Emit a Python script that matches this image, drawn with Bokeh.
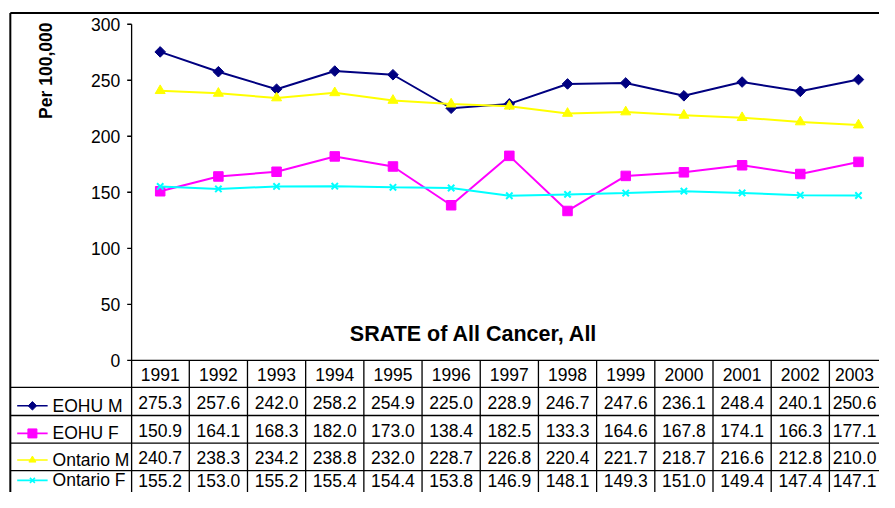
import math
from bokeh.plotting import figure
from bokeh.models import Range1d
from bokeh.core.properties import value
from bokeh.embed import file_html
from bokeh.resources import INLINE

# ---------------- data ----------------
years = [1991, 1992, 1993, 1994, 1995, 1996, 1997, 1998, 1999, 2000, 2001, 2002, 2003]
eohu_m = [275.3, 257.6, 242.0, 258.2, 254.9, 225.0, 228.9, 246.7, 247.6, 236.1, 248.4, 240.1, 250.6]
eohu_f = [150.9, 164.1, 168.3, 182.0, 173.0, 138.4, 182.5, 133.3, 164.6, 167.8, 174.1, 166.3, 177.1]
ontario_m = [240.7, 238.3, 234.2, 238.8, 232.0, 228.7, 226.8, 220.4, 221.7, 218.7, 216.6, 212.8, 210.0]
ontario_f = [155.2, 153.0, 155.2, 155.4, 154.4, 153.8, 146.9, 148.1, 149.3, 151.0, 149.4, 147.4, 147.1]
series_names = ["EOHU M", "EOHU F", "Ontario M", "Ontario F"]
y_ticks = [0, 50, 100, 150, 200, 250, 300]
chart_title = "SRATE of All Cancer, All"
y_label = "Per 100,000"

# ---------------- layout (reference-image pixels, 895 x 508) ----------------
W, H = 879, 492          # figure size that fits the window
REF_W, REF_H = 895, 508
COL_W = 59.25            # table column width
X_FIRST = 162.6          # x of the first year's centre
Y_ZERO = 371.5           # y of value 0
PX_PER_UNIT = 347.0 / 300.0
EDGE_NUDGE = 4.0         # keep the last column's texts inside the picture


def dx(px):
    return years[0] + (px - X_FIRST) / COL_W


def dy(py):
    return (Y_ZERO - py) / PX_PER_UNIT


FONT = value("Liberation Sans")
FS = "17.5px"

p = figure(width=W, height=H, output_backend="svg", toolbar_location=None,
           x_range=Range1d(dx(0), dx(REF_W)),
           y_range=Range1d(dy(REF_H), dy(0)),
           x_axis_type=None, y_axis_type=None, min_border=0,
           outline_line_color=None, background_fill_color="white",
           border_fill_color="white")
p.grid.visible = False

RIGHT = dx(REF_W + 20)
BOTTOM = dy(REF_H + 20)
AXIS_X = dx(133.5)

# outer chart border
p.segment(x0=[dx(10), dx(10)], y0=[dy(13), dy(13)], x1=[RIGHT, dx(10)], y1=[dy(13), BOTTOM],
          line_color="black", line_width=2)

# y axis line (continues as the table's left data border)
p.segment(x0=[AXIS_X], y0=[y_ticks[-1]], x1=[AXIS_X], y1=[BOTTOM], line_color="black", line_width=1.3)
# ticks and tick labels
p.segment(x0=[dx(129)] * len(y_ticks), y0=y_ticks, x1=[AXIS_X] * len(y_ticks), y1=y_ticks,
          line_color="black", line_width=1.3)
p.text(x=[dx(122)] * len(y_ticks), y=y_ticks, text=[str(t) for t in y_ticks],
       text_align="right", text_baseline="middle", text_font=FONT, text_font_size=FS,
       text_color="black")

# data table grid
p.segment(x0=[AXIS_X], y0=[0], x1=[RIGHT], y1=[0], line_color="black", line_width=1.3)
row_lines = [dy(399.5), dy(428.5), dy(457), dy(485.5)]
p.segment(x0=[dx(10)] * 4, y0=row_lines, x1=[RIGHT] * 4, y1=row_lines,
          line_color="black", line_width=1.3)
col_lines = [y + 0.5 for y in years]
p.segment(x0=col_lines, y0=[0] * len(col_lines), x1=col_lines, y1=[BOTTOM] * len(col_lines),
          line_color="black", line_width=1.3)

text_x = [y - (EDGE_NUDGE / COL_W if y == years[-1] else 0.0) for y in years]

# header years
p.text(x=text_x, y=[dy(386.5)] * len(years), text=[str(y) for y in years],
       text_align="center", text_baseline="middle", text_font=FONT, text_font_size=FS,
       text_color="black")

series = [eohu_m, eohu_f, ontario_m, ontario_f]
colors = ["#000080", "#FF00FF", "#FFFF00", "#00FFFF"]
value_rows_py = [415.5, 443.5, 472, 495.5]
legend_rows_py = [418.5, 447, 474.5, 495.5]

for vals, rpy in zip(series, value_rows_py):
    p.text(x=text_x, y=[dy(rpy)] * len(years),
           text=["%.1f" % v for v in vals],
           text_align="center", text_baseline="middle", text_font=FONT,
           text_font_size=FS, text_color="black")

# series lines and markers
marker_specs = [
    dict(marker="square", angle=math.pi / 4, size=7.5),
    dict(marker="square", angle=0, size=9.5),
    dict(marker="triangle", angle=0, size=10),
    dict(marker="x", angle=0, size=9),
]
key_sizes = [6, 9, 7, 7]

for vals, col, spec in zip(series, colors, marker_specs):
    p.line(years, vals, line_color=col, line_width=2)
    p.scatter(years, vals, marker=spec["marker"], angle=spec["angle"], size=spec["size"],
              fill_color=col, line_color=col, line_width=2 if spec["marker"] == "x" else 1)

# legend keys inside the table
for name, col, spec, ks, lpy in zip(series_names, colors, marker_specs, key_sizes, legend_rows_py):
    yk = dy(lpy)
    p.segment(x0=[dx(17)], y0=[yk], x1=[dx(48)], y1=[yk], line_color=col, line_width=1.6)
    p.scatter([dx(32.5)], [yk], marker=spec["marker"], angle=spec["angle"], size=ks,
              fill_color=col, line_color=col, line_width=1.6 if spec["marker"] == "x" else 1)
    p.text(x=[dx(53)], y=[yk], text=[name], text_align="left", text_baseline="middle",
           text_font=FONT, text_font_size=FS, text_color="black")

# title (sits inside the plot area, near the bottom)
p.text(x=[dx(482)], y=[dy(344)], text=[chart_title], text_align="center",
       text_baseline="middle", text_font=FONT, text_font_size="21.5px",
       text_font_style="bold", text_color="black")

# y axis label
p.text(x=[dx(46)], y=[dy(72.5)], text=[y_label], angle=math.pi / 2, text_align="center",
       text_baseline="middle", text_font=FONT, text_font_size=FS,
       text_font_style="bold", text_color="black")

open("out.html", "w").write(file_html(p, INLINE))
